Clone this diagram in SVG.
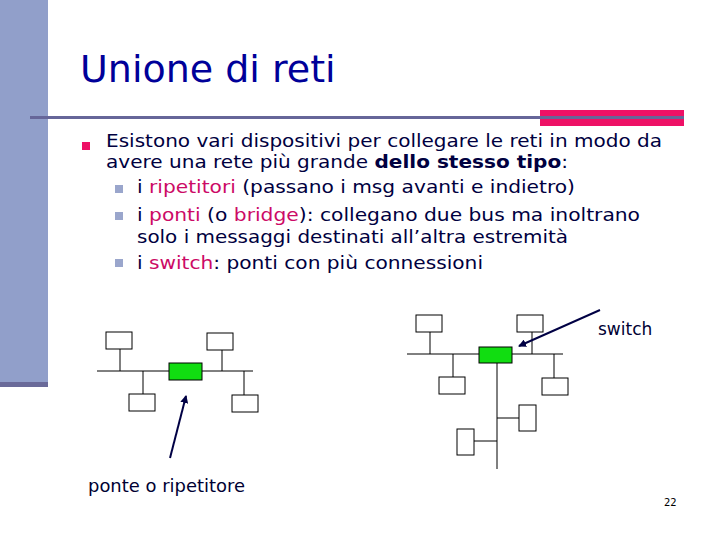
<svg xmlns="http://www.w3.org/2000/svg" width="720" height="540" viewBox="0 0 720 540">
<style>
.t{font-family:"DejaVu Sans",Verdana,sans-serif;font-size:17.5px;fill:#000040}
.p{fill:#cc0a66}
.b{fill:#fff;stroke:#000;stroke-width:1}
.g{fill:#11dd11;stroke:#000;stroke-width:1}
.l{stroke:#000;stroke-width:1;fill:none}
.a{stroke:#000044;stroke-width:2;fill:none}
</style>
<defs><marker id="ah" markerWidth="8" markerHeight="8" refX="7" refY="4" orient="auto" markerUnits="userSpaceOnUse"><path d="M0,0L8,4L0,8z" fill="#000044"/></marker></defs>
<rect width="720" height="540" fill="#fff"/>
<rect x="0" y="0" width="48" height="382" fill="#919fca"/>
<rect x="0" y="382" width="48" height="5" fill="#6a6a99"/>
<rect x="540" y="110" width="144" height="16" fill="#ee1166"/>
<rect x="30" y="116" width="654" height="3" fill="#666699"/>
<text x="80" y="82" style="font-family:'DejaVu Sans',Verdana,sans-serif;font-size:38px;fill:#000099">Unione di reti</text>
<rect x="82" y="142" width="8" height="8" fill="#ee1166"/>
<text class="t" x="106" y="147" textLength="556" lengthAdjust="spacingAndGlyphs">Esistono vari dispositivi per collegare le reti in modo da</text>
<text class="t" x="106" y="168" textLength="462" lengthAdjust="spacingAndGlyphs">avere una rete più grande <tspan font-weight="bold">dello stesso tipo</tspan>:</text>
<rect x="115" y="185" width="8" height="8" fill="#9aa6cc"/>
<text class="t" x="137" y="193" textLength="438" lengthAdjust="spacingAndGlyphs">i <tspan class="p">ripetitori</tspan> (passano i msg avanti e indietro)</text>
<rect x="115" y="212" width="8" height="8" fill="#9aa6cc"/>
<text class="t" x="137" y="221" textLength="503" lengthAdjust="spacingAndGlyphs">i <tspan class="p">ponti</tspan> (o <tspan class="p">bridge</tspan>): collegano due bus ma inoltrano</text>
<text class="t" x="137" y="243" textLength="431" lengthAdjust="spacingAndGlyphs">solo i messaggi destinati all’altra estremità</text>
<rect x="115" y="259" width="8" height="8" fill="#9aa6cc"/>
<text class="t" x="137" y="269" textLength="346" lengthAdjust="spacingAndGlyphs">i <tspan class="p">switch</tspan>: ponti con più connessioni</text>
<g id="connectors">
<path class="l" d="M97,371H253M120,349V371M143,371V394M222,350V371M244,371V395"/>
<path class="l" d="M407,354H563M430,332V354M453,354V377M532,332V354M554,354V378M497,363V469M497,418H519M474,441H497"/>
<path class="a" d="M170,458L186,396" marker-end="url(#ah)"/>
<path class="a" d="M600,310L519,346" marker-end="url(#ah)"/>
</g>
<g id="left-net">
<rect class="b" x="106" y="332" width="26" height="17"/>
<rect class="b" x="207" y="333" width="26" height="17"/>
<rect class="b" x="129" y="394" width="26" height="17"/>
<rect class="b" x="232" y="395" width="26" height="17"/>
<rect id="ponte" class="g" x="169" y="363" width="33" height="17"/>
</g>
<g id="right-net">
<rect class="b" x="416" y="315" width="26" height="17"/>
<rect class="b" x="517" y="315" width="26" height="17"/>
<rect class="b" x="439" y="377" width="26" height="17"/>
<rect class="b" x="542" y="378" width="26" height="17"/>
<rect class="b" x="519" y="405" width="17" height="26"/>
<rect class="b" x="457" y="429" width="17" height="26"/>
<rect id="switch" class="g" x="479" y="347" width="33" height="16"/>
</g>
<text x="598" y="335" style="font-family:'DejaVu Sans',Verdana,sans-serif;font-size:17px;fill:#000033">switch</text>
<text x="88" y="492" style="font-family:'DejaVu Sans',Verdana,sans-serif;font-size:17px;fill:#000033" textLength="157" lengthAdjust="spacingAndGlyphs">ponte o ripetitore</text>
<text x="664" y="506" style="font-family:'DejaVu Sans',Verdana,sans-serif;font-size:10px;fill:#000">22</text>
</svg>
